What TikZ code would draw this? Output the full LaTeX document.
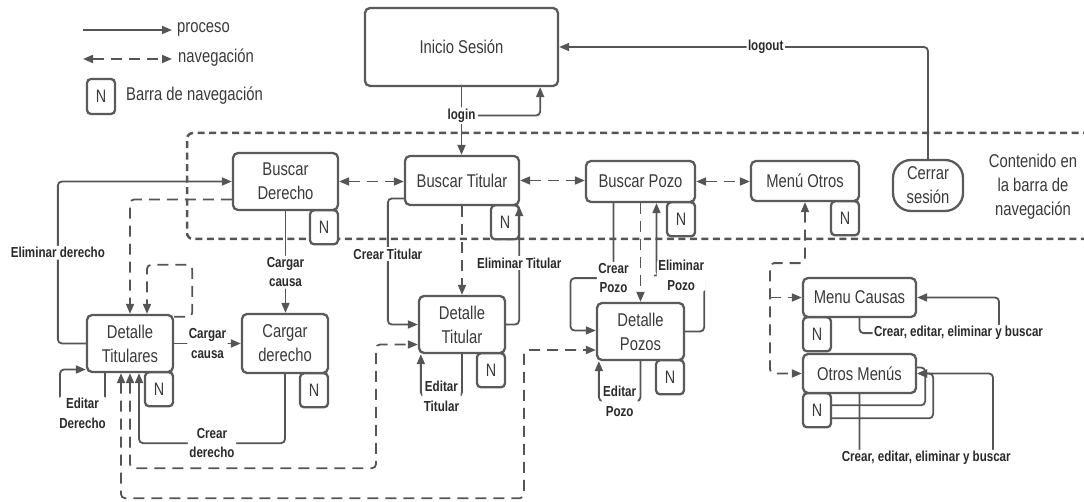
\documentclass[tikz,border=0pt]{standalone}
\usepackage{fontspec}
\setmainfont[FakeStretch=0.8]{Liberation Sans}
\usetikzlibrary{arrows.meta}
\definecolor{lc}{HTML}{555555}
\definecolor{bc}{HTML}{5A5A5A}
\definecolor{tc}{HTML}{3A3A3A}
\definecolor{lt}{HTML}{2A2A2A}
\begin{document}
\begin{tikzpicture}[x=1pt,y=-1pt,>={Triangle[length=10pt,width=8pt]},
  box/.style={draw=bc,line width=2.3pt,rounded corners=5pt,fill=white,inner sep=0pt,
    align=center,text=tc,font=\fontsize{18.5}{24}\selectfont},
  nbox/.style={draw=bc,line width=2.3pt,rounded corners=4pt,fill=white,inner sep=0pt,
    minimum width=28pt,minimum height=34pt,text=tc,font=\fontsize{18}{22}\selectfont},
  proc/.style={draw=lc,line width=1.8pt,rounded corners=4pt,->},
  procline/.style={draw=lc,line width=1.8pt,rounded corners=4pt},
  nav/.style={draw=lc,line width=1.8pt,rounded corners=4pt,dash pattern=on 11pt off 7pt,<->},
  navone/.style={draw=lc,line width=1.8pt,rounded corners=4pt,dash pattern=on 11pt off 7pt,->},
  lbl/.style={fill=white,inner sep=1.5pt,align=center,text=lt,
    font=\fontsize{14.5}{19.5}\selectfont\bfseries},
  txt/.style={text=tc,font=\fontsize{18.5}{24}\selectfont,inner sep=0pt,align=center}]
\useasboundingbox (0,0) rectangle (1084,502);

% region of the navigation bar
\draw[draw=lc,line width=2.5pt,dash pattern=on 7pt off 4.5pt,rounded corners=6pt]
  (1090,133) -- (187,133) -- (187,239) -- (1090,239);

% legend
\coordinate (lp1) at (83,30); \coordinate (lp2) at (172,30);
\draw[proc] (lp1) -- (lp2);
\node[txt,anchor=west] (lpt) at (177,29) {proceso};
\coordinate (ln1) at (83,59); \coordinate (ln2) at (172,59);
\draw[nav] (ln1) -- (ln2);
\node[txt,anchor=west] (lnt) at (178,58) {navegación};
\node[nbox,minimum height=35pt] (lN) at (101,96.5) {N};
\node[txt,anchor=west] (lNt) at (126,96) {Barra de navegación};

% screens
\node[box,minimum width=193pt,minimum height=78pt] (inicio) at (461.5,47) {Inicio Sesión};
\node[box,minimum width=105pt,minimum height=57pt] (bder) at (285.5,181.5) {Buscar\\Derecho};
\node[box,minimum width=114pt,minimum height=49pt] (btit) at (462,180.5) {Buscar Titular};
\node[box,minimum width=109pt,minimum height=41pt] (bpozo) at (640.5,181.5) {Buscar Pozo};
\node[box,minimum width=108pt,minimum height=40pt] (mo) at (805,181) {Menú Otros};
\node[box,minimum width=70pt,minimum height=51pt,rounded corners=18pt] (cerrar) at (928,185.5) {Cerrar\\sesión};
\node[txt] (cont) at (1033,187) {Contenido en\\la barra de\\navegación};
\node[box,minimum width=86pt,minimum height=57pt] (detTs) at (130,343.5) {Detalle\\Titulares};
\node[box,minimum width=86pt,minimum height=59pt] (cargarD) at (285,343.5) {Cargar\\derecho};
\node[box,minimum width=86pt,minimum height=57pt] (detTit) at (462,324.5) {Detalle\\Titular};
\node[box,minimum width=87pt,minimum height=57pt] (detPoz) at (640.5,331.5) {Detalle\\Pozos};
\node[box,minimum width=113pt,minimum height=39pt] (mc) at (859.5,297.5) {Menu Causas};
\node[box,minimum width=113pt,minimum height=39pt] (om) at (859.5,373.5) {Otros Menús};

% navigation-bar tabs
\node[nbox,anchor=north east] (bderN) at ([yshift=2pt]bder.south east) {N};
\node[nbox,anchor=north east] (btitN) at ([yshift=2pt]btit.south east) {N};
\node[nbox,anchor=north east] (bpozoN) at ([yshift=2pt]bpozo.south east) {N};
\node[nbox,anchor=north east] (moN) at ([yshift=2pt]mo.south east) {N};
\node[nbox,anchor=north east] (detTsN) at ([yshift=2pt]detTs.south east) {N};
\node[nbox,anchor=north east] (cargarDN) at ([yshift=2pt]cargarD.south east) {N};
\node[nbox,anchor=north east] (detTitN) at ([yshift=2pt]detTit.south east) {N};
\node[nbox,anchor=north east] (detPozN) at ([yshift=2pt]detPoz.south east) {N};
\node[nbox,anchor=north west] (mcN) at ([yshift=2pt]mc.south west) {N};
\node[nbox,anchor=north west] (omN) at ([yshift=2pt]om.south west) {N};

% login / logout
\draw[proc] (inicio.south) -- node[lbl,pos=0.42] (login) {login} (inicio.south |- btit.north);
\draw[proc] (login.east) -| ([xshift=-19pt]inicio.south east);
\draw[proc] (cerrar.north) |- node[lbl,pos=0.72] (logout) {logout} (inicio.east);

% navigation between search screens
\draw[nav] (bder.east) -- (bder.east -| btit.west);
\draw[nav] (btit.east) -- (btit.east -| bpozo.west);
\draw[nav] (bpozo.east) -- (bpozo.east -| mo.west);

% derechos
\draw[proc] (detTs.west) -- ++(-28,0) |- node[lbl,pos=0.28]{Eliminar derecho} (bder.west);
\draw[navone] ([yshift=-18pt]bder.west) -| (detTs.north);
\draw[navone] ([yshift=-3pt]detTs.north east) -- ++(18,0) -- ++(0,-52) -| ([xshift=17pt]detTs.north);
\draw[proc] (bder.south) -- node[lbl,pos=0.6]{Cargar\\causa} (bder.south |- cargarD.north);
\draw[proc] (detTs.east) -- node[lbl]{Cargar\\causa} (cargarD.west);
\draw[proc] (cargarD.south) -- ++(0,69) -| node[lbl,pos=0.25]{Crear\\derecho} ([xshift=9pt]detTs.south);
\draw[proc] ([xshift=-25pt]detTs.south) -- ++(0,40) -- node[lbl]{Editar\\Derecho} ++(-45,0) |- ([yshift=-26pt]detTs.west);
\draw[nav] (detTs.south) -- ++(0,95) -- ++(246,0) |- ([yshift=-20pt]detTit.west);
\draw[nav] ([xshift=-9pt]detTs.south) -- ++(0,125) -- ++(403,0) |- ([yshift=-18.5pt]detPoz.west);

% titulares
\draw[navone] (btit.south) -- (btit.south |- detTit.north);
\draw[proc] ([yshift=-18pt]btit.west) -- ++(-16,0) |- node[lbl,pos=0.22]{Crear Titular} (detTit.west);
\draw[proc] (detTit.east) -| node[lbl,pos=0.76]{Eliminar Titular} ([xshift=-1pt]btit.south east);
\draw[proc] (detTit.south) -- ++(0,42) -| node[lbl,pos=0.25]{Editar\\Titular} ([xshift=3pt]detTit.south west);

% pozos
\draw[proc] ([xshift=-27pt]bpozo.south) -- ++(0,75) node[lbl]{Crear\\Pozo} -- ++(-43,0) |- ([yshift=1pt]detPoz.west);
\draw[navone] (bpozo.south) -- (bpozo.south |- detPoz.north);
\draw[proc] (detPoz.east) -- ++(19,0) -- ++(0,-56) -- node[lbl]{Eliminar\\Pozo} ++(-46,0) -| ([xshift=16pt]bpozo.south);
\draw[proc] (detPoz.south) -- ++(0,40) -| node[lbl,pos=0.25]{Editar\\Pozo} ([xshift=3pt]detPoz.south west);

% otros menus
\coordinate (split) at ([xshift=-35pt,yshift=-61pt]mo.south);
\draw[nav] (mo.south) |- (split) |- (om.west);
\draw[navone] (split |- mc.west) -- (mc.west);
\draw[proc] (mc.south) -- ++(0,15) -- node[lbl,pos=0.71]{Crear, editar, eliminar y buscar} ++(139.5,0) |- (mc.east);
\draw[proc] (om.south) -- ++(0,64) -- node[lbl,pos=0.5]{Crear, editar, eliminar y buscar} ++(133.5,0) |- (om.east);
\draw[procline] ([yshift=5pt]omN.east) -| ([xshift=8pt,yshift=6pt]om.east) -- ([yshift=6pt]om.east);
\draw[proc] ([yshift=-8pt]omN.east) -| ([xshift=16pt]om.east) -- (om.east);
\end{tikzpicture}
\end{document}
